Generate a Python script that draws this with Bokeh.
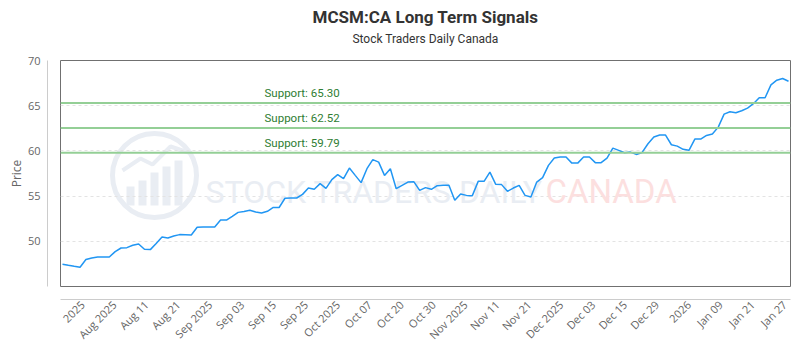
import math
from bokeh.plotting import figure
from bokeh.models import Range1d, LinearAxis, FixedTicker, Span, Label, Title
from bokeh.embed import file_html
from bokeh.resources import INLINE

# ---------------- data ----------------
title_text = "MCSM:CA Long Term Signals"
subtitle_text = "Stock Traders Daily Canada"
y_axis_title = "Price"

prices = [
    47.46, 47.34, 47.23, 47.13, 47.98, 48.16, 48.27, 48.27, 48.27, 48.86,
    49.26, 49.30, 49.56, 49.70, 49.12, 49.08, 49.76, 50.48, 50.37, 50.59,
    50.74, 50.72, 50.70, 51.55, 51.58, 51.58, 51.58, 52.35, 52.35, 52.77,
    53.20, 53.29, 53.43, 53.24, 53.13, 53.32, 53.74, 53.74, 54.76, 54.79,
    54.79, 55.19, 55.89, 55.75, 56.38, 55.86, 56.82, 57.37, 56.93, 58.10,
    57.29, 56.49, 58.03, 59.03, 58.76, 57.29, 58.03, 55.82, 56.19, 56.55,
    56.60, 55.64, 55.94, 55.75, 56.15, 56.19, 56.19, 54.53, 55.23, 55.08,
    55.05, 56.63, 56.63, 57.66, 56.30, 56.27, 55.53, 55.89, 56.19, 55.08,
    54.90, 56.55, 57.04, 58.40, 59.21, 59.32, 59.32, 58.65, 58.65, 59.32,
    59.32, 58.70, 58.70, 59.21, 60.31, 60.06, 59.80, 59.87, 59.61, 59.83,
    60.79, 61.53, 61.75, 61.75, 60.68, 60.53, 60.17, 60.06, 61.31, 61.31,
    61.71, 61.86, 62.63, 64.07, 64.33, 64.22, 64.44, 64.73, 65.22, 65.88,
    65.88, 67.31, 67.82, 68.01, 67.71,
]

support_levels = [65.30, 62.52, 59.79]

x_tick_labels = [
    "2025", "Aug 2025", "Aug 11", "Aug 21", "Sep 2025", "Sep 03", "Sep 15",
    "Sep 25", "Oct 2025", "Oct 07", "Oct 20", "Oct 30", "Nov 2025", "Nov 11",
    "Nov 21", "Dec 2025", "Dec 03", "Dec 15", "Dec 29", "2026", "Jan 09",
    "Jan 21", "Jan 27",
]

y_ticks = [50, 55, 60, 65, 70]

# ---------------- layout ----------------
W, H = 800, 350
ML, MR, MT, MB = 60, 10, 60, 64
FW, FH = W - ML - MR, H - MT - MB

n = len(prices)
xs = list(range(n))
x0, x1 = -0.34, (n - 1) + 0.34
y0, y1 = 45, 70

first_tick, tick_step = 3.4, 5.45
tick_pos = [round(first_tick + tick_step * k, 2) for k in range(len(x_tick_labels))]


def fx(px):
    """pixel x on page -> data x"""
    return x0 + (px - ML) / FW * (x1 - x0)


def fy(py):
    """pixel y on page -> data y"""
    return y1 - (py - MT) / FH * (y1 - y0)


p = figure(
    width=W, height=H,
    x_range=Range1d(x0, x1), y_range=Range1d(y0, y1),
    output_backend="svg", toolbar_location=None,
    min_border_left=ML, min_border_right=MR,
    min_border_top=MT, min_border_bottom=MB,
    background_fill_color="white", border_fill_color="white",
)

p.outline_line_color = "#707070"
p.outline_line_width = 1

# titles: spacer panel (nearest frame), subtitle, then main title (outermost)
p.title.text = title_text
p.title.align = "center"
p.title.text_font = "Roboto"
p.title.text_font_size = "17px"
p.title.text_font_style = "bold"
p.title.text_color = "#333333"
p.title.standoff = 0
p.add_layout(Title(text=" ", text_font_size="1px", standoff=9,
                   text_color="white"), "above")
p.add_layout(Title(text=subtitle_text, align="center", text_font="Roboto",
                   text_font_size="12px", text_font_style="normal",
                   text_color="#333333", standoff=6), "above")

# spacer axes (innermost) to offset the visible axes by 10px
for ax in (p.xaxis[0], p.yaxis[0]):
    ax.ticker = FixedTicker(ticks=[])
    ax.major_tick_out = 0
    ax.major_tick_in = 0
    ax.major_tick_line_color = None
    ax.minor_tick_line_color = None
    ax.axis_line_color = None
    ax.axis_label = " "
    ax.axis_label_text_font_size = "1px"
    ax.axis_label_standoff = 9
    ax.axis_label_text_color = "white"

lab_font = "Open Sans"
yax = LinearAxis(ticker=FixedTicker(ticks=y_ticks), axis_label=y_axis_title)
yax.axis_line_color = "#cccccc"
yax.major_tick_out = 0
yax.major_tick_in = 0
yax.minor_tick_line_color = None
yax.major_label_standoff = 7
yax.major_label_text_font = lab_font
yax.major_label_text_font_size = "11px"
yax.major_label_text_color = "#666666"
yax.axis_label_text_font = lab_font
yax.axis_label_text_font_size = "12px"
yax.axis_label_text_font_style = "normal"
yax.axis_label_text_color = "#666666"
yax.axis_label_standoff = 0
p.add_layout(yax, "left")

xax = LinearAxis(ticker=FixedTicker(ticks=tick_pos),
                 major_label_overrides=dict(zip(tick_pos, x_tick_labels)))
xax.axis_line_color = "#cccccc"
xax.major_tick_out = 0
xax.major_tick_in = 0
xax.minor_tick_line_color = None
xax.major_label_orientation = math.pi / 4
xax.major_label_standoff = 3
xax.major_label_text_font = lab_font
xax.major_label_text_font_size = "11px"
xax.major_label_text_color = "#666666"
p.add_layout(xax, "below")

p.xgrid.visible = False
p.ygrid[0].ticker = FixedTicker(ticks=y_ticks)
p.ygrid.grid_line_color = "#e3e3e3"
p.ygrid.grid_line_dash = "3 3"

# watermark
wm_blue = "#e9edf3"
wm_red = "#fcdfdf"
p.scatter([fx(154)], [fy(175)], marker="circle", size=84, fill_color=None,
          line_color=wm_blue, line_width=5, level="underlay")
bar_l = [fx(v) for v in (126, 138, 150, 162, 174)]
bar_r = [fx(v) for v in (134, 146, 158, 170, 182)]
bar_t = [fy(v) for v in (186, 180, 172, 166, 160)]
bar_b = [fy(205)] * 5
p.quad(left=bar_l, right=bar_r, top=bar_t, bottom=bar_b,
       fill_color=wm_blue, line_color=None, level="underlay")
p.line([fx(v) for v in (122, 140, 152, 170, 188)],
       [fy(v) for v in (170, 158, 164, 146, 152)],
       line_color=wm_blue, line_width=4, level="underlay")
p.add_layout(Label(x=fx(205), y=fy(191), text="STOCK TRADERS DAILY",
                   text_font="Roboto", text_font_size="32px",
                   text_color=wm_blue, text_baseline="alphabetic",
                   level="underlay"))
p.add_layout(Label(x=fx(545), y=fy(191), text="CANADA",
                   text_font="Roboto", text_font_size="33px",
                   text_color=wm_red, text_baseline="alphabetic",
                   level="underlay"))

# support lines
for lvl in support_levels:
    p.add_layout(Span(location=lvl, dimension="width",
                      line_color="#94cf96", line_width=2))
    p.add_layout(Label(x=fx(264), y=lvl, text=f"Support: {lvl:.2f}",
                       text_font="Roboto", text_font_size="11.5px",
                       text_color="#2e7d32", text_baseline="bottom",
                       y_offset=3))

# price line
p.line(xs, prices, line_color="#2196f3", line_width=1.5)

open("out.html", "w").write(file_html(p, INLINE))
